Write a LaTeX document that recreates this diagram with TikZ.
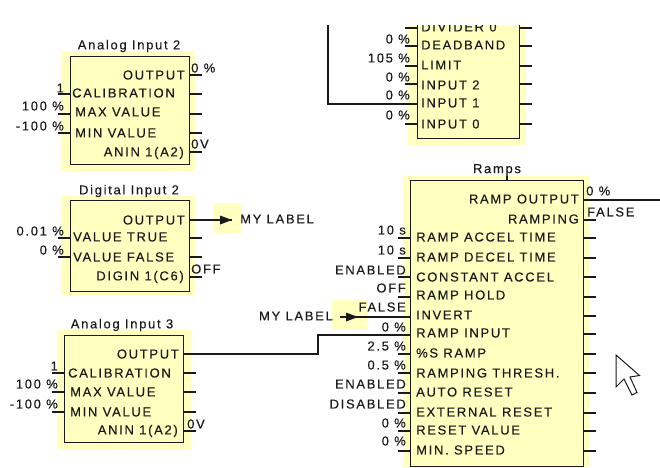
\documentclass[tikz,border=0pt]{standalone}
\usepackage{fontspec}
\setmainfont{Liberation Sans}
\newfontfamily\lab[LetterSpace=13,FakeBold=0.25]{Liberation Sans}
\definecolor{halo}{HTML}{FFFFC0}
\definecolor{ink}{HTML}{1A1A1A}
\tikzset{
  x=1pt,y=-1pt,
  bg/.style={fill=halo,draw=none},
  blockbox/.style={draw=ink,line width=1.3pt,fill=halo},
  wire/.style={draw=ink,line width=1.2pt},
  lbl/.style={inner sep=0pt,font=\fontsize{13}{13}\lab,text=ink},
  pinL/.style={lbl,anchor=west},
  pinR/.style={lbl,anchor=east},
  val/.style={lbl,anchor=east},
  valL/.style={lbl,anchor=west},
  ttl/.style={lbl,anchor=center},
}
\newcommand{\stubsL}[2]{\foreach \yy in {#2} {\coordinate (p) at (#1,\yy); \draw[wire] (p) -- ++(-12.5,0);}}
\newcommand{\stubsR}[2]{\foreach \yy in {#2} {\coordinate (p) at (#1,\yy); \draw[wire] (p) -- ++(12.5,0);}}
\begin{document}
\begin{tikzpicture}
\useasboundingbox (0,0) rectangle (660,467);
% ---------- Analog Input 2
\fill[bg] (61,51) rectangle (195,171);
\node[blockbox,minimum width=119,minimum height=108,inner sep=0pt,anchor=north west] (ai2) at (70,56) {};
\stubsL{70}{94,114,133}\stubsR{189}{75,94,114,133,152}
\node[ttl] (ai2t) at (129,46) {Analog Input 2};
\node[pinR] at (185,75) {OUTPUT};
\node[pinL] at (72,93) {CALIBRATION};
\node[pinL] at (75,112) {MAX VALUE};
\node[pinL] at (75,133) {MIN VALUE};
\node[pinR] at (184,153) {ANIN 1(A2)};
\node[valL] at (191,68) {0 \%};
\node[val] at (64,88) {1};
\node[val] at (64,106) {100 \%};
\node[val] at (64,126) {-100 \%};
\node[valL] at (191,144) {0V};
% ---------- Digital Input 2
\fill[bg] (61,196) rectangle (195,295);
\node[blockbox,minimum width=119,minimum height=91,inner sep=0pt,anchor=north west] (di2) at (70,200) {};
\stubsL{70}{238,257}\stubsR{189}{238,257,277}
\node[ttl] at (129,191) {Digital Input 2};
\node[pinR] at (185,220) {OUTPUT};
\node[pinL] at (73,237) {VALUE TRUE};
\node[pinL] at (73,257) {VALUE FALSE};
\node[pinR] at (184,277) {DIGIN 1(C6)};
\node[val] at (64,231) {0.01 \%};
\node[val] at (64,250) {0 \%};
\node[valL] at (191,269) {OFF};
% label 1
\fill[bg] (213,203) rectangle (241,233);
\coordinate (di2o) at (di2.east|-0,220);
\coordinate (arr1) at (232,220);
\draw[wire] (di2o) -- (arr1);
\fill[ink] (220,215.5) -- (232,220) -- (220,224.5) -- cycle;
\node[lbl,anchor=west] (ml1) at (240,219) {MY LABEL};
% ---------- Analog Input 3
\fill[bg] (57,330) rectangle (191,449);
\node[blockbox,minimum width=119,minimum height=107,inner sep=0pt,anchor=north west] (ai3) at (64,335) {};
\stubsL{64}{373,392,412}\stubsR{183}{373,392,412,431}
\node[ttl] at (122,325) {Analog Input 3};
\node[pinR] at (179,354) {OUTPUT};
\node[pinL] at (68,373) {CALIBRATION};
\node[pinL] at (70,392) {MAX VALUE};
\node[pinL] at (70,412) {MIN VALUE};
\node[pinR] at (178,431) {ANIN 1(A2)};
\node[val] at (58,366) {1};
\node[val] at (58,384) {100 \%};
\node[val] at (58,404) {-100 \%};
\node[valL] at (187,424) {0V};
% ---------- top block
\fill[bg] (408,25) rectangle (526,145);
\begin{scope}
\clip (320,25) rectangle (660,150);
\node[blockbox,minimum width=102,minimum height=128,inner sep=0pt,anchor=north west] (top) at (417,10) {};
\stubsL{417}{28,46,66,84,104,124}\stubsR{519}{28,46,66,84,104,124}
\node[pinL] at (421,27) {DIVIDER 0};
\end{scope}
\node[pinL] at (421,45) {DEADBAND};
\node[pinL] at (421,65) {LIMIT};
\node[pinL] at (421,85) {INPUT 2};
\node[pinL] at (421,103) {INPUT 1};
\node[pinL] at (421,124) {INPUT 0};
\node[val] at (410,39) {0 \%};
\node[val] at (410,58) {105 \%};
\node[val] at (410,77) {0 \%};
\node[val] at (410,95) {0 \%};
\node[val] at (410,115) {0 \%};
\coordinate (topin) at (328,25);
\draw[wire] (topin) |- (top.west|-0,104);
% ---------- Ramps
\fill[bg] (403,176) rectangle (589,467);
\fill[bg] (332,300) rectangle (367,329);
\node[blockbox,minimum width=173,minimum height=286,inner sep=0pt,anchor=north west] (ramp) at (410,180) {};
\node[ttl] (rampt) at (497,170) {Ramps};
\draw[wire] (507,176) -- (507,180);
\stubsL{410}{238,258,277,297,354,373,393,413,431,451}
\stubsR{583}{220,238,258,277,297,316,334,354,373,393,413,431,451}
\node[pinR] at (579,199) {RAMP OUTPUT};
\node[pinR] at (579,219) {RAMPING};
\node[pinL] at (416,237) {RAMP ACCEL TIME};
\node[pinL] at (416,257) {RAMP DECEL TIME};
\node[pinL] at (416,277) {CONSTANT ACCEL};
\node[pinL] at (416,295) {RAMP HOLD};
\node[pinL] at (416,315) {INVERT};
\node[pinL] at (416,333) {RAMP INPUT};
\node[pinL] at (416,353) {\%S RAMP};
\node[pinL] at (416,373) {RAMPING THRESH.};
\node[pinL] at (416,392) {AUTO RESET};
\node[pinL] at (416,412) {EXTERNAL RESET};
\node[pinL] at (416,430) {RESET VALUE};
\node[pinL] at (416,450) {MIN. SPEED};
\node[valL] at (586,191) {0 \%};
\node[valL] at (587,212) {FALSE};
\node[val] at (406,230) {10 s};
\node[val] at (406,250) {10 s};
\node[val] at (406,270) {ENABLED};
\node[val] at (406,288) {OFF};
\node[val] at (406,307) {FALSE};
\node[val] at (406,327) {0 \%};
\node[val] at (406,346) {2.5 \%};
\node[val] at (406,365) {0.5 \%};
\node[val] at (406,384) {ENABLED};
\node[val] at (406,404) {DISABLED};
\node[val] at (406,423) {0 \%};
\node[val] at (406,441) {0 \%};
\coordinate (rampout) at (660,200);
\draw[wire] (ramp.east|-0,200) -- (rampout);
% label 2
\coordinate (arr2) at (340,317);
\draw[wire] (ramp.west|-0,317) -- (arr2);
\fill[ink] (346,312.5) -- (358,317) -- (346,321.5) -- cycle;
\node[lbl,anchor=east] (ml2) at (333,316) {MY LABEL};
% Analog 3 output to Ramp input
\coordinate (bend) at (318,354);
\draw[wire] (ai3.east|-0,354) -- (bend) -- (318,335) -- (ramp.west|-0,335);
% cursor
\draw[draw=ink,line width=1pt,fill=white,line join=miter]
 (616,355) -- (616,387) -- (624,379) -- (632,395) -- (637,392.5) -- (630,377) -- (639.5,375.5) -- cycle;
\end{tikzpicture}
\end{document}
